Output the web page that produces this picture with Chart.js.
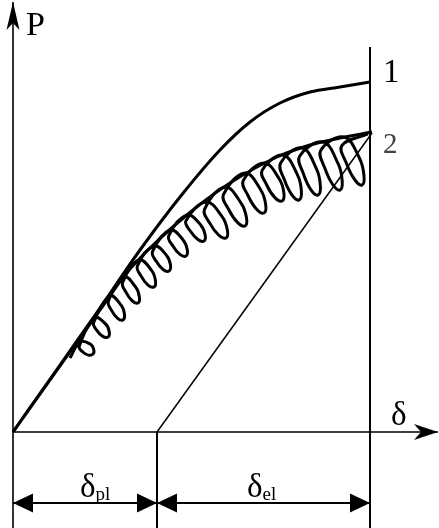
<!DOCTYPE html>
<html>
<head>
<meta charset="utf-8">
<script src="https://cdn.jsdelivr.net/npm/chart.js@4.4.0/dist/chart.umd.min.js"></script>
<style>
  html, body { margin: 0; padding: 0; background: #fff; }
  canvas { display: block; }
</style>
</head>
<body>
<canvas id="diagram" width="439" height="528"></canvas>
<script>
// load-displacement diagram, origin at the axis crossing
const curve1 = [[0, 0], [47, 67], [87, 124], [127, 182], [167, 235], [207, 282], [237, 310], [267, 329], [297, 340], [327, 345], [357, 350]];
const curve2 = [[0, 0], [47, 66], [87, 122], [112, 157], [137, 184], [180, 222], [217, 249], [264, 275], [297, 287], [327, 294], [359, 300]];
// coil hanging under curve 2, one row per turn:
// top, right, lower right, bottom, lower left, left, upper left
const coil = [
  [57, 74],
  [67, 90], [77.2, 88], [80.7, 82.7], [80, 78], [75.3, 76.9], [69.8, 80], [66.2, 85.5],
  [82, 114], [93, 107.6], [96.3, 100.1], [95, 95], [89.8, 95.6], [84, 101.4], [80.6, 109.2],
  [97, 136], [108.3, 126.6], [111.5, 117.5], [110, 112], [104.6, 113.7], [98.7, 121.4], [95.4, 130.8],
  [111, 155], [122.9, 144.6], [126.4, 134.8], [125, 129], [119.4, 131], [113.2, 139.4], [109.6, 149.5],
  [126, 172], [138.7, 161.4], [142.5, 151.1], [141, 145], [135, 146.9], [128.3, 155.6], [124.4, 166.2],
  [141, 186], [153.6, 176.6], [157.5, 167], [156, 161], [150.1, 162.5], [143.4, 170.4], [139.5, 180.3],
  [157, 202], [170.1, 192.1], [174.3, 182.2], [173, 176], [166.9, 177.6], [159.9, 185.9], [155.7, 196.2],
  [174, 217], [187.5, 207.3], [192.1, 197.3], [191, 191], [184.9, 192.5], [177.5, 200.7], [172.9, 211.1],
  [193, 230], [209.1, 215.4], [214.4, 201.8], [213, 194], [205.6, 197], [196.9, 208.6], [191.5, 222.6],
  [212, 245], [228.2, 228.7], [233.5, 214.2], [232, 206], [224.5, 209.6], [215.8, 222.3], [210.4, 237.3],
  [232, 259], [247.8, 242], [252.7, 227.2], [251, 219], [243.6, 222.8], [235.2, 236], [230.2, 251.3],
  [251, 269], [266.3, 253], [270.9, 238.9], [269, 231], [261.7, 234.6], [253.7, 247], [249.1, 261.6],
  [270, 277], [284.6, 256.8], [288.4, 240.4], [286, 232], [278.9, 237.1], [271.4, 252.2], [267.6, 269.1],
  [289, 284], [303.6, 262.8], [307.4, 245.7], [305, 237], [297.8, 242.4], [290.4, 258.3], [286.6, 275.8],
  [310, 290], [325.1, 268.3], [329.2, 250.9], [327, 242], [319.7, 247.5], [311.9, 263.7], [307.8, 281.7],
  [331, 295], [346.6, 273.5], [351, 256], [349, 247], [341.6, 252.5], [333.5, 268.5], [328.9, 286.5],
  [355, 298]
];
const unload = [[144, 0], [359, 299]];
const deltaPl = 144;   // plastic part of the displacement
const deltaEnd = 357;  // total displacement
const pMax = 430;
const dimLevel = -71;

const curveLabels = ['1', '2'];

const pts = arr => arr.map(p => ({ x: p[0], y: p[1] }));

function line(data, width, extra) {
  return Object.assign({
    data: pts(data),
    showLine: true,
    borderColor: '#000',
    backgroundColor: '#000',
    borderWidth: width,
    pointRadius: 0,
    tension: 0,
    clip: false
  }, extra || {});
}

// arrowheads at the ends of a dataset's line
const arrowPlugin = {
  id: 'arrows',
  afterDatasetsDraw(chart) {
    const ctx = chart.ctx;
    chart.data.datasets.forEach((ds, i) => {
      if (!ds.arrows) return;
      const el = chart.getDatasetMeta(i).data;
      const a = ds.arrows;
      const draw = (tip, from) => {
        const ang = Math.atan2(tip.y - from.y, tip.x - from.x);
        const c = Math.cos(ang), s = Math.sin(ang);
        ctx.save();
        ctx.fillStyle = '#000';
        ctx.beginPath();
        ctx.moveTo(tip.x, tip.y);
        ctx.lineTo(tip.x - a.len * c - a.half * s, tip.y - a.len * s + a.half * c);
        ctx.lineTo(tip.x - a.notch * c, tip.y - a.notch * s);
        ctx.lineTo(tip.x - a.len * c + a.half * s, tip.y - a.len * s - a.half * c);
        ctx.closePath();
        ctx.fill();
        ctx.restore();
      };
      if (a.end) draw(el[el.length - 1], el[el.length - 2]);
      if (a.start) draw(el[0], el[1]);
    });
  }
};

const serif = '"Liberation Serif", "DejaVu Serif", serif';
const texts = [
  { t: 'P', x: 13, y: 397, size: 34 },
  { t: curveLabels[0], x: 370, y: 350, size: 33 },
  { t: curveLabels[1], x: 370, y: 279, size: 29, color: '#444' },
  { t: 'δ', x: 378, y: 7, size: 33 },
  { t: 'δ', sub: 'pl', x: 67, y: dimLevel + 6, size: 33 },
  { t: 'δ', sub: 'el', x: 234, y: dimLevel + 6, size: 33 }
];

const textPlugin = {
  id: 'texts',
  afterDatasetsDraw(chart) {
    const ctx = chart.ctx;
    const sx = chart.scales.x, sy = chart.scales.y;
    ctx.save();
    ctx.textBaseline = 'alphabetic';
    texts.forEach(l => {
      const px = sx.getPixelForValue(l.x), py = sy.getPixelForValue(l.y);
      ctx.fillStyle = l.color || '#000';
      ctx.font = l.size + 'px ' + serif;
      ctx.fillText(l.t, px, py);
      if (l.sub) {
        const w = ctx.measureText(l.t).width;
        ctx.font = Math.round(l.size * 0.58) + 'px ' + serif;
        ctx.fillText(l.sub, px + w, py + 3);
      }
    });
    ctx.restore();
  }
};

const dimArrow = { start: true, end: true, len: 20, half: 9.5, notch: 20 };

new Chart(document.getElementById('diagram'), {
  type: 'scatter',
  data: {
    datasets: [
      line([[0, -96], [0, pMax]], 1.6, { arrows: { end: true, len: 28, half: 6.5, notch: 21 } }),
      line([[0, 0], [425, 0]], 1.6, { arrows: { end: true, len: 24, half: 8, notch: 17 } }),
      line([[deltaEnd, -96], [deltaEnd, 385]], 2),
      line([[deltaPl, 0], [deltaPl, -96]], 2),
      line(unload, 1.5),
      line(curve1, 3, { cubicInterpolationMode: 'monotone' }),
      line(curve2, 3, { cubicInterpolationMode: 'monotone' }),
      line(coil, 3, { tension: 0.4 }),
      line([[0, dimLevel], [deltaPl, dimLevel]], 2, { arrows: dimArrow }),
      line([[deltaPl, dimLevel], [deltaEnd, dimLevel]], 2, { arrows: dimArrow })
    ]
  },
  options: {
    responsive: false,
    animation: false,
    devicePixelRatio: 1,
    layout: { padding: 0 },
    plugins: { legend: { display: false }, tooltip: { enabled: false } },
    scales: {
      x: { type: 'linear', min: -13, max: 426, display: false },
      y: { type: 'linear', min: -96, max: 432, display: false }
    }
  },
  plugins: [arrowPlugin, textPlugin]
});
</script>
</body>
</html>
